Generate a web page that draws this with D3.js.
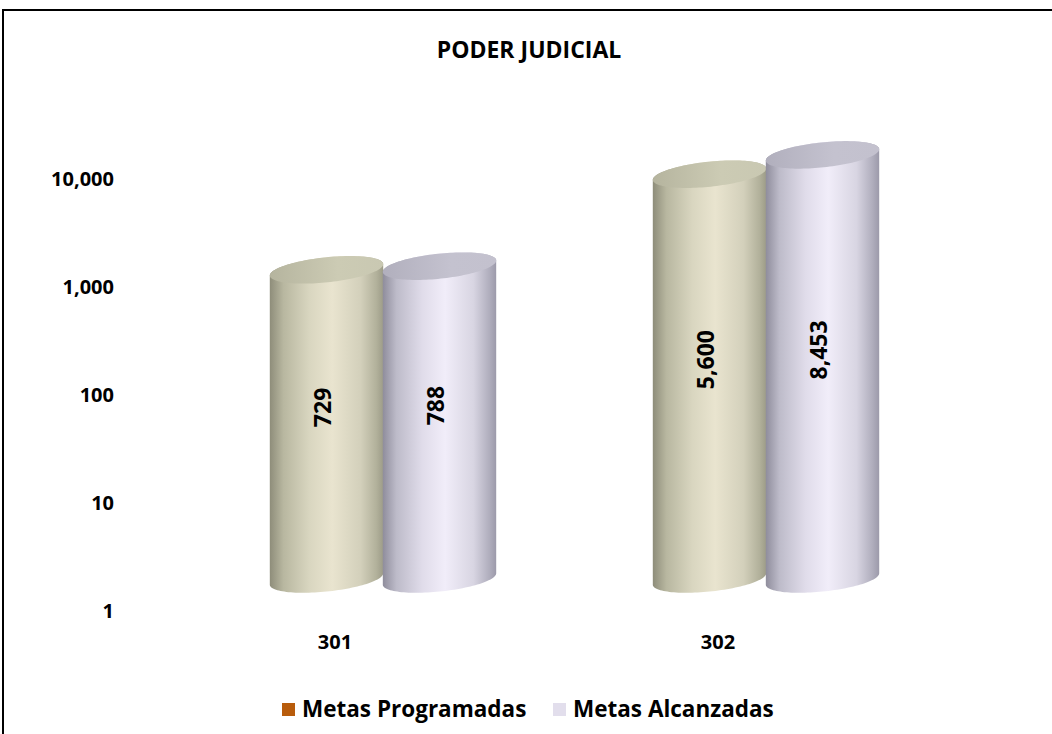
<!DOCTYPE html>
<html>
<head>
<meta charset="utf-8">
<script src="https://cdn.jsdelivr.net/npm/d3@7"></script>
<style>
  html, body { margin: 0; padding: 0; background: #fff; }
  svg { display: block; }
  text { font-family: "Open Sans", Lato, sans-serif; font-weight: bold; fill: #000; }
</style>
</head>
<body>
<svg id="chart" width="1052" height="734"></svg>
<script>
// ---- data ----
const categories = ["301", "302"];
const seriesNames = ["Metas Programadas", "Metas Alcanzadas"];
const metasProgramadas = [729, 5600];
const metasAlcanzadas = [788, 8453];
const tickValues = [1, 10, 100, 1000, 10000];
const title = "PODER JUDICIAL";

const series = [metasProgramadas, metasAlcanzadas];
const legendColors = ["#b85c0c", "#e2deec"];

const svg = d3.select("#chart");
const W = 1052, H = 734;

// frame
svg.append("rect").attr("x", 3).attr("y", 10).attr("width", W + 10).attr("height", H + 10)
  .attr("fill", "#fff").attr("stroke", "#000").attr("stroke-width", 2);

// title
svg.append("text").attr("x", 529).attr("y", 58).attr("text-anchor", "middle")
  .style("font-size", "23px").text(title);

// scales
const y = d3.scaleLog().domain([1, 10000]).range([610, 178]);
const x0 = d3.scaleBand().domain(categories).range([143.5, 909.5]);
const depthDx = 48, depthDy = -31;
const barStep = 113, rx = 57, ry = 12.5;
const theta = -6 * Math.PI / 180;

// y tick labels
const yAxis = d3.axisLeft(y).tickValues(tickValues).tickFormat(d3.format(",")).tickSize(0).tickPadding(0);
const gy = svg.append("g").attr("transform", "translate(114,0)").call(yAxis);
gy.select(".domain").remove();
gy.selectAll("text").attr("font-family", null).attr("font-size", null).attr("dy", "0.36em")
  .style("font-size", "20px").style("font-weight", "bold").attr("fill", "#000");

// category labels
svg.append("g").selectAll("text").data(categories).join("text")
  .attr("x", d => x0(d) + x0.bandwidth() / 2).attr("y", 649)
  .attr("text-anchor", "middle").style("font-size", "20px").text(d => d);

// gradients
const defs = svg.append("defs");
const gradSpecs = [
  { id: "side0", stops: [["0%", "#8e8d7a"], ["12%", "#b8b7a0"], ["35%", "#d9d6c0"], ["55%", "#e9e4cf"], ["80%", "#d3d0bb"], ["94%", "#b2b19b"], ["100%", "#9d9c88"]] },
  { id: "side1", stops: [["0%", "#8f8d9c"], ["12%", "#bdbbc9"], ["35%", "#e0dcea"], ["55%", "#f1edf9"], ["80%", "#d8d5e2"], ["94%", "#b0aebd"], ["100%", "#9c9aaa"]] },
  { id: "top0", stops: [["0%", "#b5b49e"], ["60%", "#cccbb4"], ["100%", "#c9c8b2"]] },
  { id: "top1", stops: [["0%", "#b1afbd"], ["60%", "#c4c2cf"], ["100%", "#c3c1ce"]] }
];
gradSpecs.forEach(g => {
  const lg = defs.append("linearGradient").attr("id", g.id).attr("x1", "0%").attr("x2", "100%").attr("y1", "0%").attr("y2", "0%");
  g.stops.forEach(s => lg.append("stop").attr("offset", s[0]).attr("stop-color", s[1]));
});

function ept(cx, cy, t) {
  return [cx + rx * Math.cos(t) * Math.cos(theta) - ry * Math.sin(t) * Math.sin(theta),
          cy + rx * Math.cos(t) * Math.sin(theta) + ry * Math.sin(t) * Math.cos(theta)];
}
const t0 = Math.atan(-ry * Math.tan(theta) / rx);

function bodyPath(cx, yTop, yBot) {
  const pts = [];
  pts.push(ept(cx, yTop, t0 + Math.PI));
  d3.range(0, 61).forEach(i => pts.push(ept(cx, yBot, t0 + Math.PI - Math.PI * i / 60)));
  d3.range(0, 61).forEach(i => pts.push(ept(cx, yTop, t0 - Math.PI * i / 60)));
  return d3.line()(pts) + "Z";
}
function ellipsePath(cx, cy) {
  const pts = d3.range(0, 120).map(i => ept(cx, cy, 2 * Math.PI * i / 120));
  return d3.line()(pts) + "Z";
}

// bars
const gBars = svg.append("g");
categories.forEach((c, ci) => {
  const catCenter = x0(c) + x0.bandwidth() / 2 + depthDx;
  series.forEach((s, si) => {
    const v = s[ci];
    const cx = catCenter + (si - 0.5) * barStep;
    const yTop = y(v) + depthDy;
    const yBot = y(1) + depthDy;
    gBars.append("path").attr("d", bodyPath(cx, yTop, yBot)).attr("fill", `url(#side${si})`);
    gBars.append("path").attr("d", ellipsePath(cx, yTop)).attr("fill", `url(#top${si})`);
    gBars.append("text")
      .attr("transform", `translate(${cx + 4},${(yTop + yBot) / 2 - 17}) rotate(-90)`)
      .attr("text-anchor", "middle").style("font-size", "23px").text(d3.format(",")(v));
  });
});

// legend
const legend = svg.append("g");
const legX = [282, 553];
seriesNames.forEach((n, i) => {
  legend.append("rect").attr("x", legX[i]).attr("y", 703).attr("width", 13).attr("height", 13).attr("fill", legendColors[i]);
  legend.append("text").attr("x", legX[i] + 20).attr("y", 717).style("font-size", "22.5px").text(n);
});
</script>
</body>
</html>
